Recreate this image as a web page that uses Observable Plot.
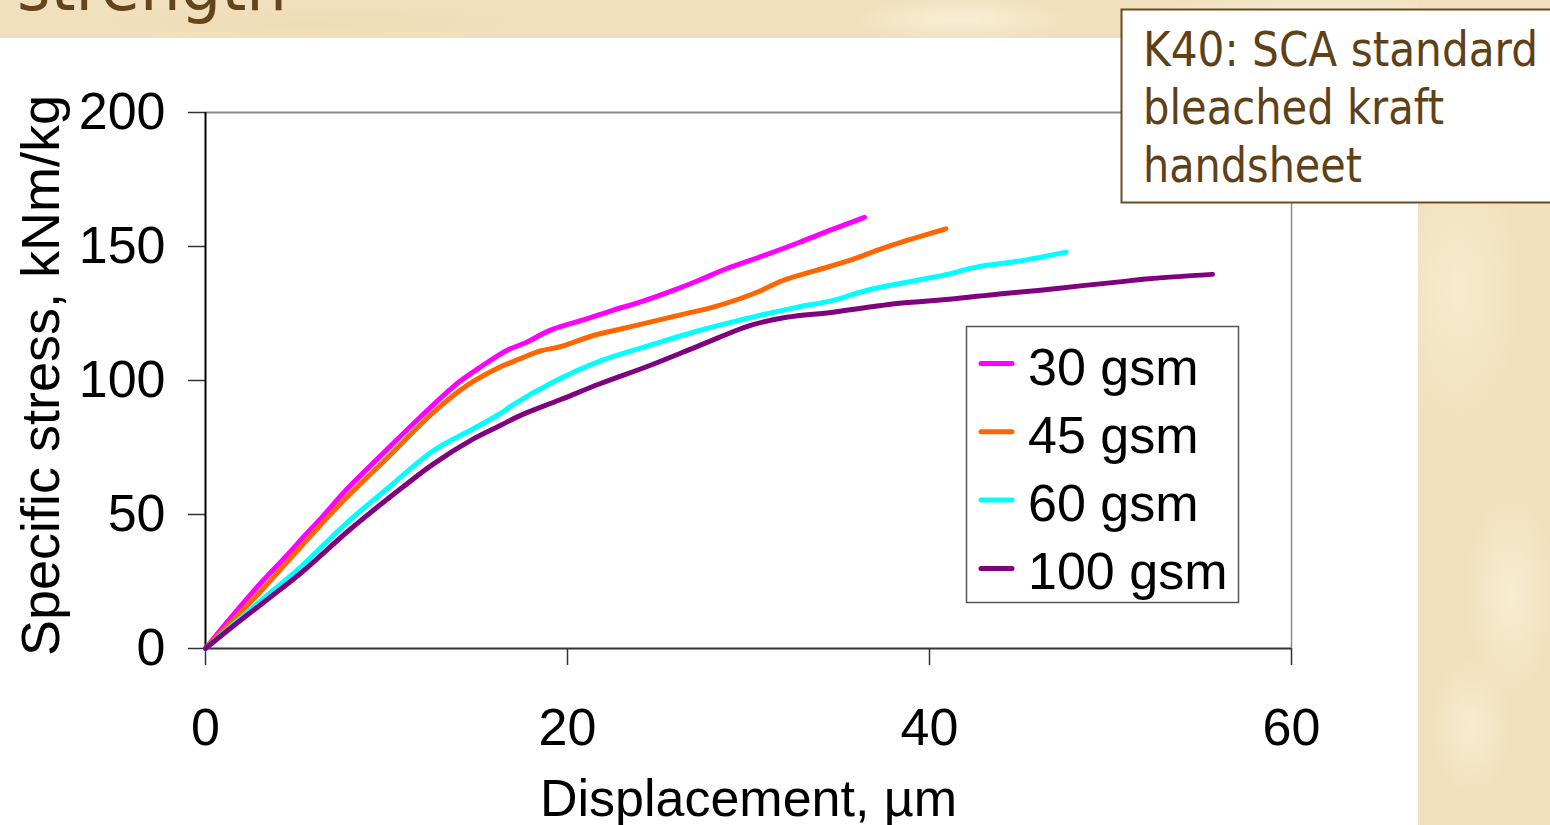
<!DOCTYPE html>
<html>
<head>
<meta charset="utf-8">
<script src="https://cdn.jsdelivr.net/npm/d3@7"></script>
<script src="https://cdn.jsdelivr.net/npm/@observablehq/plot@0.6"></script>
<style>
  html, body { margin: 0; padding: 0; background: #fff; }
  #page { position: relative; width: 1550px; height: 825px; overflow: hidden; background: #fff; }
  #chart { position: absolute; left: 0; top: 0; }
  .parch {
    position: absolute;
    background-color: #F1E0BD;
    background-image:
      radial-gradient(ellipse 70% 25% at 30% 35%, rgba(250,240,215,0.65), rgba(250,240,215,0) 70%),
      radial-gradient(ellipse 50% 18% at 70% 72%, rgba(252,244,224,0.6), rgba(252,244,224,0) 70%),
      radial-gradient(ellipse 45% 12% at 40% 88%, rgba(252,244,224,0.55), rgba(252,244,224,0) 70%),
      radial-gradient(ellipse 55% 15% at 60% 15%, rgba(236,216,172,0.5), rgba(236,216,172,0) 70%);
  }
  #stripTop { left: 0; top: 0; width: 1550px; height: 38px;
    background-image:
      radial-gradient(ellipse 10% 80% at 62% 50%, rgba(252,245,228,0.7), rgba(252,245,228,0) 70%),
      radial-gradient(ellipse 15% 90% at 85% 40%, rgba(252,245,228,0.6), rgba(252,245,228,0) 70%),
      radial-gradient(ellipse 20% 70% at 20% 60%, rgba(236,216,172,0.5), rgba(236,216,172,0) 70%); }
  #stripSide { left: 1418px; top: 0; width: 132px; height: 825px; }
  #decor { position: absolute; left: 0; top: 0; }
</style>
</head>
<body>
<div id="page">
  <div id="chart"></div>
  <div class="parch" id="stripTop"></div>
  <div class="parch" id="stripSide"></div>
  <svg id="decor" width="1550" height="825"></svg>
</div>
<script>
// Tensile curves of K40 handsheets at four grammages
const seriesNames = ["30 gsm", "45 gsm", "60 gsm", "100 gsm"];
const seriesColors = ["#FF00FF", "#FF6600", "#00FFFF", "#800080"];

const disp30 = [0, 1.4, 2.85, 4.6, 5.24, 6.5, 7.82, 9.84, 11.86, 13.89, 15.3, 16.64, 17.75, 19.03, 21.06, 22.5, 24, 25.84, 27.3, 28.77, 30.8, 32.83, 34.6, 36.41];
const stress30 = [0, 11.5, 22.9, 35.5, 40.3, 49.5, 59.5, 73, 86.3, 98.8, 105.5, 111.2, 114.3, 118.7, 123, 126.2, 129.2, 133.6, 137.5, 141.7, 146.5, 151.6, 156.3, 160.9];

const disp45 = [0, 1.5, 3, 5.24, 7.45, 10.02, 12.6, 14.44, 16.28, 17.38, 18.48, 19.6, 21.43, 23, 24.55, 26.3, 28.05, 29.52, 30.6, 31.9, 33.7, 35.59, 37.2, 38.71, 40.9];
const stress45 = [0, 10.5, 21, 37.8, 54, 71, 88.2, 98.1, 105, 108.1, 111, 112.6, 116.8, 119.3, 121.8, 124.6, 127.4, 130.5, 133.3, 137.3, 141, 144.8, 148.8, 152.2, 156.6];

const disp60 = [0, 1.5, 3.4, 5.24, 7.82, 10.02, 12.6, 14.8, 16.28, 17.01, 19.03, 21.79, 24.55, 26.94, 28.8, 30.62, 32.6, 34.67, 36.51, 39.26, 41.1, 42.57, 45, 47.54];
const stress60 = [0, 8.8, 19.8, 30.3, 47, 59.5, 73.9, 82, 87.6, 91, 98.8, 107.2, 113.1, 118, 121.3, 124.3, 127.2, 129.9, 133.6, 137.3, 139.8, 142.3, 144.6, 147.9];

const disp100 = [0, 1.5, 3.4, 5.24, 8, 10.76, 12.6, 14.8, 16.28, 17.38, 19.59, 21.79, 24.55, 27.31, 30.07, 32.1, 34.67, 38.34, 41.1, 43.86, 46, 48.46, 50.5, 52.14, 55.63];
const stress100 = [0, 8.2, 18.2, 28, 44.5, 59.5, 68.9, 78.2, 83.2, 86.9, 92.8, 98.8, 105.6, 113.1, 120.5, 123.6, 125.5, 128.8, 130.3, 132.3, 133.6, 135.4, 136.8, 138, 139.6];

const xTicks = [0, 20, 40, 60];
const yTicks = [0, 50, 100, 150, 200];

const xLabel = "Displacement, µm";
const yLabel = "Specific stress, kNm/kg";
const slideTitle = "strength";
const noteLines = ["K40: SCA standard", "bleached kraft", "handsheet"];

// Long-format table for the line mark
const curves = [
  [seriesNames[0], disp30, stress30],
  [seriesNames[1], disp45, stress45],
  [seriesNames[2], disp60, stress60],
  [seriesNames[3], disp100, stress100]
];
const rows = curves.flatMap(([name, xs, ys]) => xs.map((x, i) => ({series: name, x, y: ys[i]})));

const sans = "'Liberation Sans', Arial, Helvetica, sans-serif";

const chart = Plot.plot({
  width: 1550,
  height: 825,
  marginLeft: 205,
  marginRight: 259,
  marginTop: 112,
  marginBottom: 177,
  style: {background: "transparent", fontFamily: sans, fontSize: "52px", color: "#000", overflow: "visible"},
  x: {domain: [0, 60], ticks: xTicks, label: null},
  y: {domain: [0, 200], ticks: yTicks, label: null},
  color: {domain: seriesNames, range: seriesColors},
  marks: [
    Plot.ruleY([200], {stroke: "#8a8a8a", strokeWidth: 2}),
    Plot.ruleX([60], {stroke: "#8a8a8a", strokeWidth: 1.5}),
    Plot.axisX({ticks: xTicks, tickSize: 17, tickPadding: 43, stroke: "#333", fill: "#000", fontSize: 52, label: null, strokeWidth: 1.5}),
    Plot.axisY({ticks: yTicks, tickSize: 17, tickPadding: 23, stroke: "#333", fill: "#000", fontSize: 52, label: null, strokeWidth: 1.5}),
    Plot.ruleX([0], {stroke: "#000", strokeWidth: 2}),
    Plot.ruleY([0], {stroke: "#333", strokeWidth: 2}),
    Plot.line(rows, {x: "x", y: "y", z: "series", stroke: "series", strokeWidth: 5, curve: "catmull-rom", strokeLinejoin: "round", strokeLinecap: "round"}),
    Plot.text([xLabel], {text: d => d, frameAnchor: "bottom", textAnchor: "middle", lineAnchor: "bottom", dy: 167, fontSize: 52, fill: "#000"}),
    Plot.text([yLabel], {text: d => d, frameAnchor: "left", textAnchor: "middle", rotate: -90, lineAnchor: "bottom", dx: -147, dy: -5, fontSize: 54, fill: "#000"})
  ]
});
document.getElementById("chart").append(chart);

// Slide decorations: title, note box and legend
const decor = d3.select("#decor");

decor.append("text")
  .attr("x", 17).attr("y", 10)
  .attr("font-family", "'DejaVu Sans', Verdana, sans-serif")
  .attr("font-size", 66)
  .attr("fill", "#65441A")
  .attr("textLength", 270).attr("lengthAdjust", "spacingAndGlyphs")
  .text(slideTitle);

decor.append("rect")
  .attr("x", 1121.5).attr("y", 9.5).attr("width", 500).attr("height", 193)
  .attr("fill", "#fff").attr("stroke", "#6B4C22").attr("stroke-width", 2);

const noteWidths = [395, 301, 219];
noteLines.forEach((line, i) => {
  decor.append("text")
    .attr("x", 1143).attr("y", 66 + i * 57.8)
    .attr("font-family", "'DejaVu Sans', Verdana, sans-serif")
    .attr("font-size", 48)
    .attr("fill", "#5F4117")
    .attr("textLength", noteWidths[i]).attr("lengthAdjust", "spacingAndGlyphs")
    .text(line);
});

const legend = decor.append("g");
legend.append("rect")
  .attr("x", 966.5).attr("y", 326.5).attr("width", 272).attr("height", 276)
  .attr("fill", "#fff").attr("stroke", "#555").attr("stroke-width", 1.5);
seriesNames.forEach((name, i) => {
  const cy = 363.5 + i * 68.3;
  legend.append("line")
    .attr("x1", 981).attr("x2", 1012).attr("y1", cy).attr("y2", cy)
    .attr("stroke", seriesColors[i]).attr("stroke-width", 5).attr("stroke-linecap", "round");
  legend.append("text")
    .attr("x", 1028).attr("y", cy + 21)
    .attr("font-family", sans).attr("font-size", 52).attr("fill", "#000")
    .text(name);
});
</script>
</body>
</html>
